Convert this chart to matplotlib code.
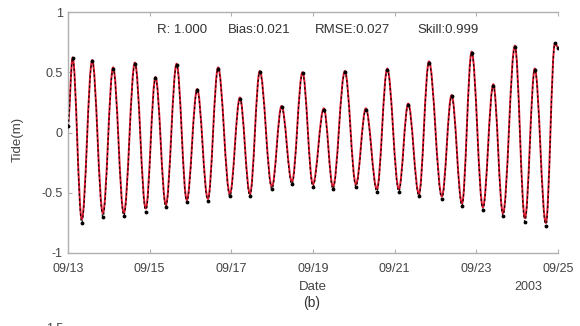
import numpy as np
import matplotlib
matplotlib.use("Agg")
import matplotlib.pyplot as plt
import matplotlib.dates as mdates
from matplotlib.path import Path
from matplotlib.patches import PathPatch

plt.rcParams['font.family'] = ['Liberation Sans', 'DejaVu Sans']

# tidal extremes, hours after 2003-09-13 00:00
high_hours = [2.8, 14.3, 26.6, 39.4, 51.5, 63.9, 76.0, 88.3, 101.1, 112.8, 125.6, 137.9,
              150.4, 162.8, 175.1, 187.7, 200.0, 212.2, 225.5, 237.3, 250.0, 262.7, 274.4, 286.2]
low_hours = [8.2, 20.6, 32.9, 45.8, 57.6, 69.9, 82.3, 95.2, 107.0, 119.9, 131.7, 144.0,
             155.8, 169.3, 181.6, 194.5, 206.3, 219.8, 231.6, 243.9, 255.7, 268.6, 280.9]

obs_high = [0.62, 0.59, 0.53, 0.57, 0.45, 0.56, 0.35, 0.53, 0.28, 0.50, 0.21, 0.49,
            0.19, 0.50, 0.19, 0.52, 0.23, 0.58, 0.30, 0.66, 0.39, 0.71, 0.52, 0.74]
obs_low = [-0.75, -0.70, -0.69, -0.66, -0.62, -0.58, -0.57, -0.53, -0.53, -0.47, -0.43, -0.45,
           -0.47, -0.45, -0.49, -0.49, -0.53, -0.55, -0.61, -0.64, -0.69, -0.74, -0.78]
mod_high = [0.62, 0.60, 0.54, 0.58, 0.46, 0.57, 0.36, 0.54, 0.29, 0.51, 0.22, 0.50,
            0.20, 0.51, 0.20, 0.53, 0.24, 0.59, 0.31, 0.67, 0.40, 0.72, 0.53, 0.74]
mod_low = [-0.72, -0.67, -0.67, -0.63, -0.60, -0.56, -0.55, -0.51, -0.51, -0.45, -0.41, -0.43,
           -0.45, -0.43, -0.47, -0.47, -0.51, -0.53, -0.59, -0.62, -0.67, -0.71, -0.75]

start_hour, start_obs, start_mod = 0.0, 0.05, 0.07
end_hour, end_obs, end_mod = 288.0, 0.70, 0.71

stat_labels = ['R: 1.000', 'Bias:0.021', 'RMSE:0.027', 'Skill:0.999']


def series(start, highs, lows, end):
    out = [start]
    for i, h in enumerate(highs):
        out.append(h)
        if i < len(lows):
            out.append(lows[i])
    out.append(end)
    return out


def tide_path(x, y, k=0.36):
    # cubic segments between turning points, flat at each high/low water
    verts = [(x[0], y[0])]
    codes = [Path.MOVETO]
    for i in range(len(x) - 1):
        dx = x[i + 1] - x[i]
        verts += [(x[i] + k * dx, y[i]), (x[i + 1] - k * dx, y[i + 1]), (x[i + 1], y[i + 1])]
        codes += [Path.CURVE4] * 3
    return Path(verts, codes)


hours = series(start_hour, high_hours, low_hours, end_hour)
obs = series(start_obs, obs_high, obs_low, end_obs)
mod = series(start_mod, mod_high, mod_low, end_mod)

t0 = np.datetime64('2003-09-13T00:00')
t = t0 + (np.array(hours) * 60).astype('timedelta64[m]')
tn = mdates.date2num(t)

fig = plt.figure(figsize=(5.8, 3.26), dpi=100)
ax = fig.add_axes([0.117, 0.224, 0.845, 0.739])

ax.add_patch(PathPatch(tide_path(tn, mod), fill=False, edgecolor='#d8192e', lw=1.4, zorder=2))
ax.add_patch(PathPatch(tide_path(tn, obs), fill=False, edgecolor='k', lw=0.8,
                       ls=(0, (2, 2.5)), zorder=3))
ax.plot(t, obs, 'k.', ms=3.5, zorder=4)

ax.set_xlim(np.datetime64('2003-09-13'), np.datetime64('2003-09-25'))
ax.set_ylim(-1, 1)
ax.set_yticks([-1, -0.5, 0, 0.5, 1])
ax.set_yticklabels(['-1', '-0.5', '0', '0.5', '1'])
ax.xaxis.set_major_locator(mdates.DayLocator(interval=2))
ax.xaxis.set_major_formatter(mdates.DateFormatter('%m/%d'))

gray = '#b0b0b0'
for s in ax.spines.values():
    s.set_color(gray)
    s.set_linewidth(1.0)
ax.spines['right'].set_visible(False)
ax.tick_params(direction='in', top=True, length=3, color=gray,
               labelsize=9, labelcolor='#444444')
ax.tick_params(axis='x', pad=7)

ax.set_ylabel('Tide(m)', fontsize=9.5, color='#444444')
ax.yaxis.set_label_coords(-0.09, 0.47)
ax.set_xlabel('Date', fontsize=9.5, color='#444444')
ax.xaxis.set_label_coords(0.5, -0.115)

for xs, lab in zip([157, 228, 315, 417], stat_labels):
    ax.text((xs - 68) / 490, 0.925, lab, transform=ax.transAxes, fontsize=9.5,
            color='#333333', va='center')
fig.text(0.91, 0.120, '2003', fontsize=9, color='#444444', ha='center', va='center')
fig.text(0.538, 0.070, '(b)', fontsize=10, color='#333333', ha='center', va='center')

# top edge of the next panel, just peeking in at the bottom
ax2 = fig.add_axes([0.117, -0.9, 0.845, 0.895])
ax2.set_ylim(-1.5, 1.5)
ax2.set_yticks([1.5])
ax2.set_yticklabels(['1.5'])
ax2.set_xticks([])
for s in ax2.spines.values():
    s.set_color(gray)
ax2.tick_params(direction='in', length=3, color=gray, labelsize=9, labelcolor='#444444')

fig.savefig('out.png', dpi=100)
